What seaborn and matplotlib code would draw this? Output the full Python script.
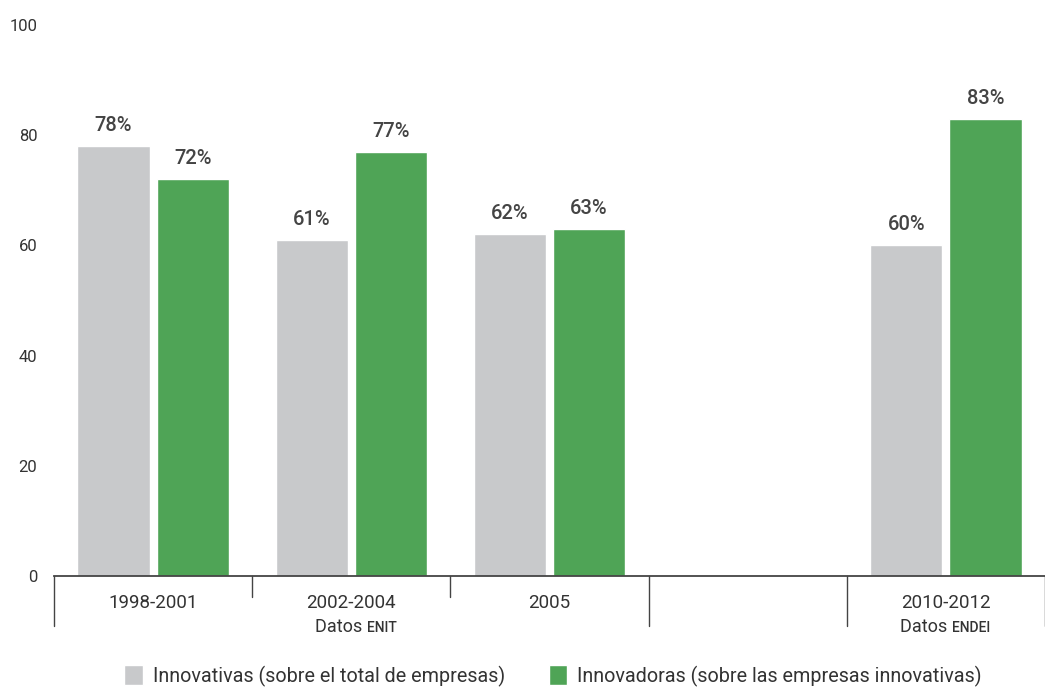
import numpy as np
import pandas as pd
import seaborn as sns
import matplotlib.pyplot as plt
import matplotlib.transforms as mtransforms

# Data
periodos = ["1998-2001", "2002-2004", "2005", " ", "2010-2012"]
innovativas = [78, 61, 62, np.nan, 60]
innovadoras = [72, 77, 63, np.nan, 83]
serie_a = "Innovativas (sobre el total de empresas)"
serie_b = "Innovadoras (sobre las empresas innovativas)"
fuentes = [("Datos ", "ENIT"), ("Datos ", "ENDEI")]

df = pd.DataFrame({
    "periodo": periodos * 2,
    "valor": innovativas + innovadoras,
    "serie": [serie_a] * len(periodos) + [serie_b] * len(periodos),
})

sns.set_theme(style="white")
plt.rcParams["font.family"] = ["Roboto", "DejaVu Sans"]

GRIS = "#c8c9cb"
VERDE = "#4fa456"
TXT = "#333333"

fig = plt.figure(figsize=(10.45, 6.88), dpi=100)
ax = fig.add_axes([54 / 1045, 112 / 688, 991 / 1045, 551 / 688])

sns.barplot(data=df, x="periodo", y="valor", hue="serie", order=periodos,
            hue_order=[serie_a, serie_b], palette=[GRIS, VERDE],
            saturation=1, gap=0.09, width=0.8, ax=ax, legend=True)

ax.set_ylim(0, 100)
ax.set_xlim(-0.5, len(periodos) - 0.5)
ax.set_yticks([0, 20, 40, 60, 80, 100])
ax.tick_params(axis="y", length=0, pad=12, labelsize=12, labelcolor=TXT)
ax.tick_params(axis="x", length=0, pad=13, labelsize=13.5, labelcolor=TXT)
ax.set_xlabel("")
ax.set_ylabel("")
for s in ["top", "right", "left"]:
    ax.spines[s].set_visible(False)
ax.spines["bottom"].set_color("#444444")
ax.spines["bottom"].set_linewidth(1.3)

for cont in ax.containers:
    labels = ["" if np.isnan(v) else f"{v:.0f}%" for v in cont.datavalues]
    ax.bar_label(cont, labels=labels, padding=8, fontsize=14.5,
                 color="#444444", fontweight="medium")

# Separators below the axis
tr = mtransforms.blended_transform_factory(ax.transData, ax.transAxes)
largo = -50 / 551
corto = -21 / 551
for i, x in enumerate(np.arange(len(periodos) + 1) - 0.5):
    y1 = corto if i in (1, 2) else largo
    ax.plot([x, x], [0, y1], transform=tr, color="#444444", lw=1.0,
            clip_on=False)

# Source notes
for (pre, sig), xc in zip(fuentes, [1.08, 4.03]):
    ax.text(xc, -56 / 551, pre, transform=tr, ha="right", va="baseline",
            fontsize=13, color=TXT)
    ax.text(xc, -56 / 551, sig, transform=tr, ha="left", va="baseline",
            fontsize=10, color=TXT, fontweight="medium")

handles, labels = ax.get_legend_handles_labels()
ax.legend_.remove()
fig.legend(handles, labels, loc="center", bbox_to_anchor=(553 / 1045, 1 - 676 / 688),
           ncol=2, frameon=False, fontsize=14.2, handlelength=0.95,
           handleheight=1.2, handletextpad=0.5, columnspacing=2.2,
           labelcolor=TXT)

fig.savefig("out.png", dpi=100)
